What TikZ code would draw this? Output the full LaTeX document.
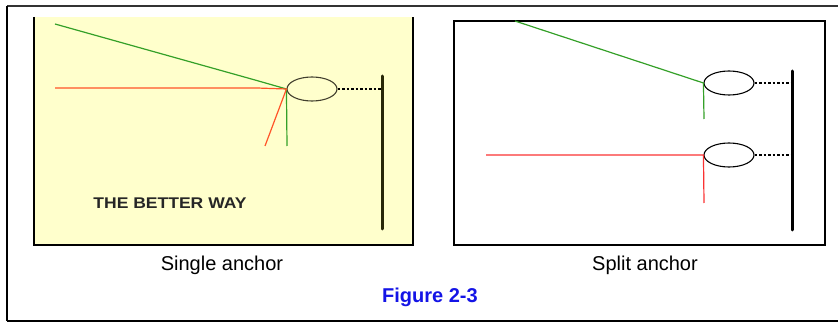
\documentclass[tikz,border=0pt]{standalone}
\usepackage{fontspec}
\setmainfont{Liberation Sans}
\newfontfamily\widebold[FakeStretch=1.13]{Liberation Sans}
\usepackage{tikz}
\usetikzlibrary{shapes.geometric}
\usetikzlibrary{positioning}

\definecolor{paleyellow}{RGB}{255,255,204}
\definecolor{guygreen}{RGB}{52,160,40}
\definecolor{guyorange}{RGB}{255,84,40}
\definecolor{guyred}{RGB}{250,50,50}
\definecolor{olivepole}{RGB}{40,40,8}
\definecolor{figblue}{RGB}{20,20,230}

\begin{document}
\begin{tikzpicture}[x=1pt,y=-1pt]

		\tikzset{
			eye/.style={draw, ellipse, minimum width=50pt, minimum height=24pt, inner sep=0pt, line width=1.1pt},
			guy/.style={line width=1.2pt},
			tie/.style={line width=1.4pt, dash pattern=on 2.5pt off 2pt},
			pole/.style={line width=3pt, line cap=round},
			panel/.style={line width=2pt},
			caption/.style={font=\fontsize{20}{22}\selectfont}
		}

		\useasboundingbox (0,0) rectangle (838,323);

		% outer frame (cut off at the right)
		\draw[line width=2pt, black!80] (838,6) -- (7,6);
		\draw[line width=1.5pt] (7,6) -- (7,321);
		\draw[line width=2.5pt] (7,321) -- (838,321);

		% --- left panel: single anchor ---
		\fill[paleyellow] (34,17) rectangle (413,245);
		\draw[panel] (34,17) -- (34,245) -- (413,245) -- (413,17);

		\node[eye, draw=black!70!olive] (eyeA) at (312,89) {};
		\coordinate (poleAtop) at (382,76);
		\coordinate (poleAbot) at (382,229);
		\coordinate (tieA) at (382,89);
		\draw[pole, olivepole] (poleAtop) -- (poleAbot);
		\draw[tie] (eyeA.east) -- (tieA);

		\coordinate (gA1) at (55,24);
		\coordinate (gA2) at (255,80);
		\coordinate (gA3) at (287,146);
		\coordinate (rA1) at (55,88);
		\coordinate (rA2) at (257,88);
		\coordinate (rA3) at (265,146);
		\draw[guy, guygreen] (gA1) -- (gA2) -- (eyeA.west) -- (gA3);
		\draw[guy, guyorange] (rA1) -- (rA2) -- (eyeA.west) -- (rA3);

		\node[font=\widebold\bfseries\fontsize{15.5}{17}\selectfont, text=black!85] (motto) at (170,203) {THE BETTER WAY};

		% --- right panel: split anchor ---
		\draw[panel] (454,21) rectangle (825,245);

		\node[eye] (eyeB) at (729,83) {};
		\node[eye] (eyeC) at (729,155) {};
		\coordinate (poleBtop) at (792,71);
		\coordinate (poleBbot) at (792,230);
		\coordinate (tieB) at (792,83);
		\coordinate (tieC) at (792,155);
		\draw[pole] (poleBtop) -- (poleBbot);
		\draw[tie] (eyeB.east) -- (tieB);
		\draw[tie] (eyeC.east) -- (tieC);

		\coordinate (gB1) at (515,21);
		\coordinate (gB2) at (704,119);
		\coordinate (rB1) at (486,155);
		\coordinate (rB2) at (704,203);
		\draw[guy, guygreen] (gB1) -- (eyeB.west) -- (gB2);
		\draw[guy, guyred] (rB1) -- (eyeC.west) -- (rB2);

		% captions
		\node[caption] (capA) at (222,265) {Single anchor};
		\node[caption] (capB) at (645,265) {Split anchor};
		\node[caption, font=\bfseries\fontsize{20}{22}\selectfont, text=figblue] (figno) at (430,297) {Figure 2-3};

	\end{tikzpicture}
\end{document}
